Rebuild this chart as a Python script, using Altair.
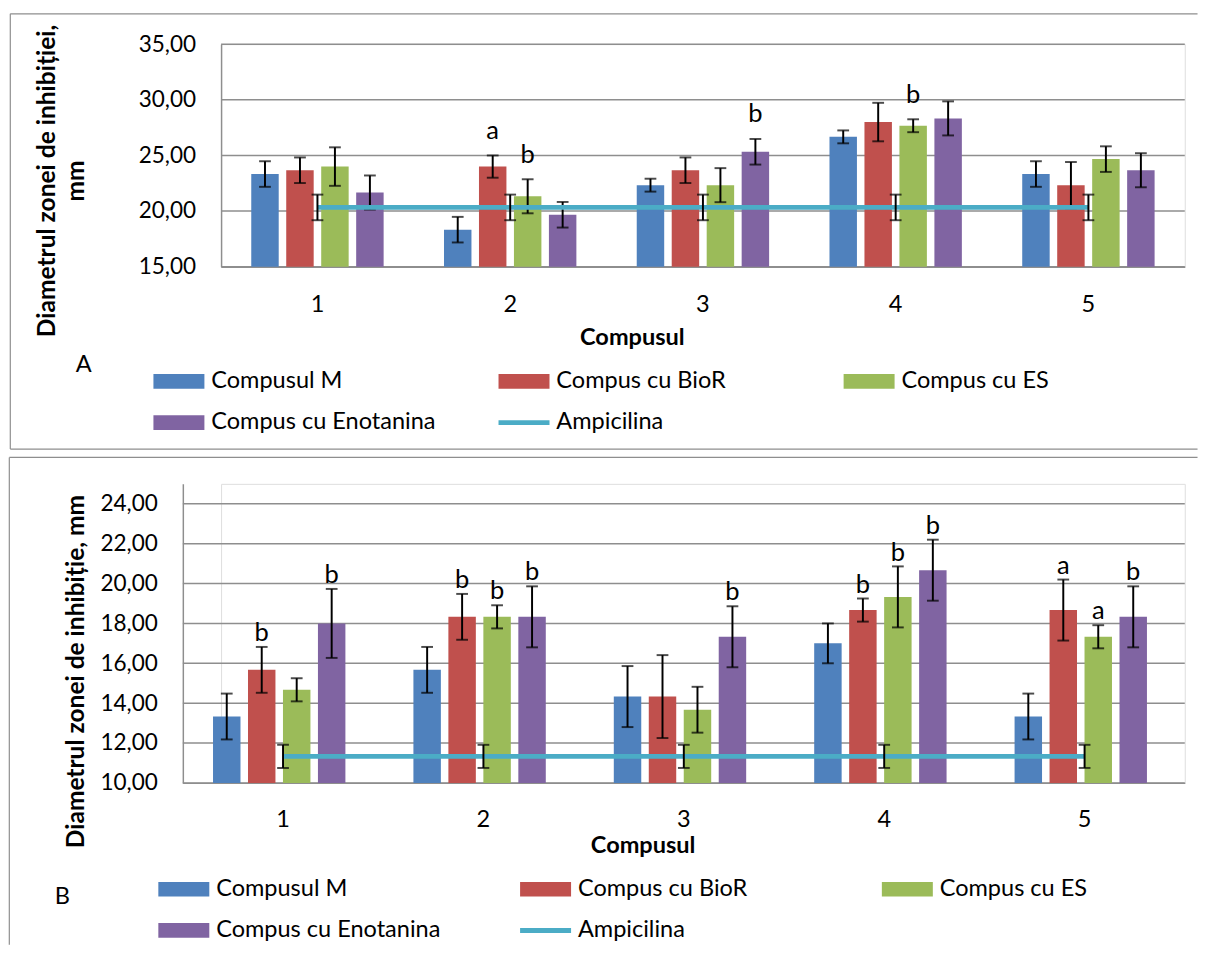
import altair as alt
import pandas as pd

FONT = "Lato"
GRID = "#8E8E8E"

categories = ["1", "2", "3", "4", "5"]
series = ["Compusul M", "Compus cu BioR", "Compus cu ES", "Compus cu Enotanina"]
line_name = "Ampicilina"
colors = ["#4F81BD", "#C0504D", "#9BBB59", "#8064A2", "#4BACC6"]

# ---------------- Panel A ----------------
a_M = [23.33, 18.33, 22.33, 26.67, 23.33]
a_M_err = [1.15, 1.15, 0.58, 0.58, 1.15]
a_BioR = [23.67, 24.00, 23.67, 28.00, 22.33]
a_BioR_err = [1.15, 1.00, 1.15, 1.73, 2.08]
a_ES = [24.00, 21.33, 22.33, 27.67, 24.67]
a_ES_err = [1.73, 1.53, 1.53, 0.58, 1.15]
a_Eno = [21.67, 19.67, 25.33, 28.33, 23.67]
a_Eno_err = [1.53, 1.15, 1.15, 1.53, 1.53]
a_amp = [20.33, 20.33, 20.33, 20.33, 20.33]
a_amp_err = [1.15, 1.15, 1.15, 1.15, 1.15]
a_lab_M = ["", "", "", "", ""]
a_lab_BioR = ["", "a", "", "", ""]
a_lab_ES = ["", "b", "", "b", ""]
a_lab_Eno = ["", "", "b", "", ""]
a_ticks = [15, 20, 25, 30, 35]

# ---------------- Panel B ----------------
b_M = [13.33, 15.67, 14.33, 17.00, 13.33]
b_M_err = [1.15, 1.15, 1.53, 1.00, 1.15]
b_BioR = [15.67, 18.33, 14.33, 18.67, 18.67]
b_BioR_err = [1.15, 1.15, 2.08, 0.58, 1.53]
b_ES = [14.67, 18.33, 13.67, 19.33, 17.33]
b_ES_err = [0.58, 0.58, 1.15, 1.53, 0.58]
b_Eno = [18.00, 18.33, 17.33, 20.67, 18.33]
b_Eno_err = [1.73, 1.53, 1.53, 1.53, 1.53]
b_amp = [11.33, 11.33, 11.33, 11.33, 11.33]
b_amp_err = [0.58, 0.58, 0.58, 0.58, 0.58]
b_lab_M = ["", "", "", "", ""]
b_lab_BioR = ["b", "b", "", "b", "a"]
b_lab_ES = ["", "b", "", "b", "a"]
b_lab_Eno = ["b", "b", "b", "b", "b"]
b_ticks = [10, 12, 14, 16, 18, 20, 22, 24]


def long_df(vals, errs, labs):
    rows = []
    for s, v, e, l in zip(series, vals, errs, labs):
        for c, vv, ee, ll in zip(categories, v, e, l):
            rows.append({"cat": c, "series": s, "value": vv,
                         "lo": vv - ee, "hi": vv + ee, "label": ll})
    return pd.DataFrame(rows)


def amp_df(vals, errs):
    return pd.DataFrame({"cat": categories, "value": vals,
                         "lo": [v - e for v, e in zip(vals, errs)],
                         "hi": [v + e for v, e in zip(vals, errs)]})


def panel(df, adf, ydom, yticks, ytitle, width, height, shift, pi, po,
          ytitleX, ytitleY, xtitleX, xtitleY, xlabpad,
          legX, legY, colpad, lab_dy, letter, letX, letY, border):
    # the plot area starts `shift` px left of the panel origin
    xscale = alt.Scale(type="band", domain=categories, paddingInner=0, paddingOuter=0,
                       range=[-shift, width])
    yscale = alt.Scale(domain=ydom, nice=False, zero=False)
    xaxis = alt.Axis(title="Compusul", labelAngle=0, labelFont=FONT, labelFontSize=24,
                     labelColor="black", labelPadding=xlabpad, ticks=False,
                     domainColor=GRID, domainWidth=1.5, grid=False,
                     titleFont=FONT, titleFontSize=24, titleFontWeight="bold",
                     titleColor="black", titleX=xtitleX, titleY=xtitleY,
                     titleAlign="center", titleBaseline="middle")
    yaxis = alt.Axis(title=ytitle, values=yticks, ticks=False, offset=shift,
                     labelExpr="replace(format(datum.value, '.2f'), '.', ',')",
                     labelFont=FONT, labelFontSize=23, labelColor="black",
                     labelPadding=26, domainColor=GRID, domainWidth=1.5,
                     grid=False,
                     titleFont=FONT, titleFontSize=25, titleFontWeight="bold",
                     titleColor="black", titleAngle=270, titleX=ytitleX,
                     titleY=ytitleY, titleAlign="center", titleBaseline="middle",
                     titleLineHeight=30)
    X = alt.X("cat:N", scale=xscale, axis=xaxis)
    XO = alt.XOffset("series:N", sort=series,
                     scale=alt.Scale(domain=series, paddingInner=pi, paddingOuter=po))

    nb = "\u00a0"
    label_expr = ("datum.label === 'Compus cu BioR' ? '" + nb + "Compus cu BioR' : datum.label")
    # legend swatch: 52 x 15 rectangle (5 px line for Ampicilina) on a 24 px layout cell
    legend = alt.Legend(
        title=None, orient="none", legendX=legX + 14, legendY=legY, columns=3,
        direction="horizontal", gridAlign="all", columnPadding=colpad,
        rowPadding=18, padding=0,
        symbolType=alt.ExprRef(expr="datum.value === 'Ampicilina' ? "
                               "'M-2.1667,-0.2083H2.1667V0.2083H-2.1667Z' : "
                               "'M-2.1667,-0.625H2.1667V0.625H-2.1667Z'"),
        symbolSize=576, symbolStrokeWidth=0, symbolOpacity=1,
        labelFont=FONT, labelFontSize=24, labelColor="black", labelOffset=21,
        labelLimit=600, labelExpr=label_expr)

    grid = alt.Chart(pd.DataFrame({"tick": yticks})).mark_rule(
        color=GRID, strokeWidth=1.5).encode(
        y=alt.Y("tick:Q", scale=yscale, axis=yaxis),
        x=alt.value(-shift), x2=alt.value(width))
    bars = alt.Chart(df).mark_bar().encode(
        x=X, xOffset=XO,
        y=alt.Y("value:Q", scale=yscale, axis=yaxis),
        y2=alt.datum(ydom[0]),
        color=alt.Color("series:N", scale=alt.Scale(domain=series + [line_name], range=colors),
                        legend=legend),
    )
    rules = alt.Chart(df).mark_rule(color="black", strokeWidth=2).encode(
        x=X, xOffset=XO, y=alt.Y("lo:Q", scale=yscale, axis=yaxis), y2="hi:Q")
    cap_hi = alt.Chart(df).mark_tick(color="black", thickness=2, size=12).encode(
        x=X, xOffset=XO, y=alt.Y("hi:Q", scale=yscale, axis=yaxis))
    cap_lo = alt.Chart(df).mark_tick(color="black", thickness=2, size=12).encode(
        x=X, xOffset=XO, y=alt.Y("lo:Q", scale=yscale, axis=yaxis))
    line = alt.Chart(adf).mark_line(color=colors[4], strokeWidth=5).encode(
        x=X, y=alt.Y("value:Q", scale=yscale, axis=yaxis))
    arule = alt.Chart(adf).mark_rule(color="black", strokeWidth=2).encode(
        x=X, y=alt.Y("lo:Q", scale=yscale, axis=yaxis), y2="hi:Q")
    acap_hi = alt.Chart(adf).mark_tick(color="black", thickness=2, size=12).encode(
        x=X, y=alt.Y("hi:Q", scale=yscale, axis=yaxis))
    acap_lo = alt.Chart(adf).mark_tick(color="black", thickness=2, size=12).encode(
        x=X, y=alt.Y("lo:Q", scale=yscale, axis=yaxis))
    letters = alt.Chart(df).transform_filter("datum.label != ''").mark_text(
        font=FONT, fontSize=26, color="black", baseline="middle", dy=lab_dy).encode(
        x=X, xOffset=XO, y=alt.Y("hi:Q", scale=yscale, axis=yaxis), text="label:N")

    one = pd.DataFrame({"d": [0]})
    bx0, bx1, by0, by1, bottom = border
    deco = [
        alt.Chart(one).mark_rule(color=GRID, strokeWidth=1.2).encode(
            x=alt.value(bx0), x2=alt.value(bx1), y=alt.value(by0)),
        alt.Chart(one).mark_rule(color=GRID, strokeWidth=1.2).encode(
            x=alt.value(bx0), y=alt.value(by0), y2=alt.value(by1)),
        alt.Chart(one).mark_text(font=FONT, fontSize=24, color="black").encode(
            x=alt.value(letX), y=alt.value(letY), text=alt.value(letter)),
    ]
    if bottom:
        deco.append(alt.Chart(one).mark_rule(color=GRID, strokeWidth=1.2).encode(
            x=alt.value(bx0), x2=alt.value(bx1), y=alt.value(by1)))

    return alt.layer(grid, bars, rules, cap_hi, cap_lo, line, arule, acap_hi, acap_lo,
                     letters, *deco).properties(width=width, height=height)


dfA = long_df([a_M, a_BioR, a_ES, a_Eno], [a_M_err, a_BioR_err, a_ES_err, a_Eno_err],
              [a_lab_M, a_lab_BioR, a_lab_ES, a_lab_Eno])
dfB = long_df([b_M, b_BioR, b_ES, b_Eno], [b_M_err, b_BioR_err, b_ES_err, b_Eno_err],
              [b_lab_M, b_lab_BioR, b_lab_ES, b_lab_Eno])

# panel origins are both at x=223; panel B's plot starts 39 px further left
chartA = panel(dfA, amp_df(a_amp, a_amp_err), [15, 35], a_ticks,
               ["Diametrul zonei de inhibiției,", "mm"], 983, 227, 0, 0.215, 0.863,
               -178, 139, 419, 72, 27,
               -69, 332, 63, -25, "A", -140, 327.5,
               (-215, 996, -31, 413, True))
chartB = panel(dfB, amp_df(b_amp, b_amp_err), [10, 25], b_ticks,
               "Diametrul zonei de inhibiție, mm", 983, 305, 39, 0.212, 0.853,
               -109, 191, 430, 64, 26,
               -64, 401.5, 80, -14, "B", -162, 421.5,
               (-216, 996, -27, 470, False))

chart = alt.vconcat(chartA, chartB, spacing=4.5).resolve_scale(
    color="independent").resolve_legend(color="independent").properties(
    padding={"left": 7.5, "top": 2.5, "right": 0, "bottom": 0}
).configure_view(stroke=None).configure(background="white")

chart.save("out.html", embed_options={"renderer": "svg", "actions": False})
